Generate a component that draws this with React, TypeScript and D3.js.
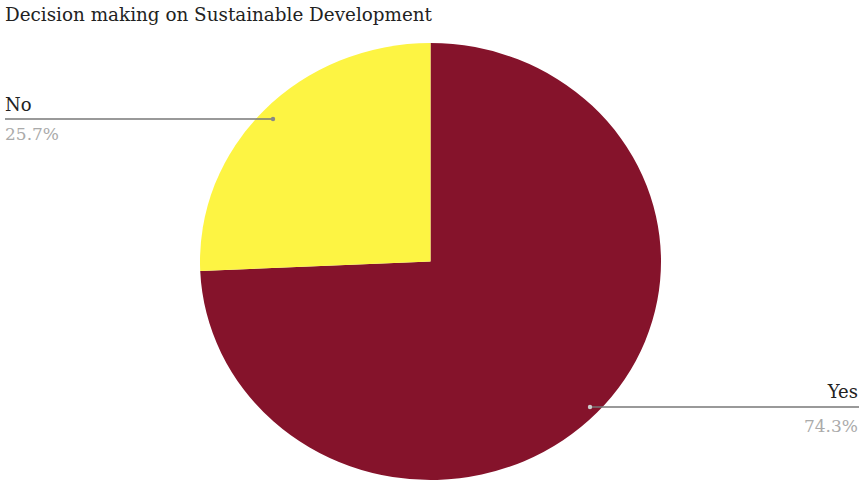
import React from "react";
import * as d3 from "d3";

const categories = ["Yes", "No"];
const values = [74.3, 25.7];
const colors = ["#85132B", "#FDF443"];
const title = "Decision making on Sustainable Development";

export default function App() {
  const W = 859, H = 483;
  const cx = 430.5, cy = 261.5, rx = 230.5, ry = 218.5;
  const pie = d3.pie<number>().sort(null).value((d) => d);
  const arcs = pie(values);
  const arc = d3.arc<d3.PieArcDatum<number>>().innerRadius(0).outerRadius(rx);
  const font = "'DejaVu Serif', serif";
  return (
    <svg width={W} height={H} style={{ position: "absolute", left: 0, top: 0, background: "#fff" }}>
      <text x={5} y={21} fontFamily={font} fontSize={18} fill="#222" textLength={427} lengthAdjust="spacingAndGlyphs">{title}</text>
      <g transform={`translate(${cx},${cy}) scale(1,${ry / rx})`}>
        {arcs.map((a, i) => (
          <path key={categories[i]} d={arc(a) || ""} fill={colors[i]} />
        ))}
      </g>
      {/* No label */}
      <line x1={5} y1={119} x2={273} y2={119} stroke="#777" strokeWidth={1.3} />
      <circle cx={273} cy={119} r={2.2} fill="#888" />
      <text x={5} y={111} fontFamily={font} fontSize={18} fill="#222">{categories[1]}</text>
      <text x={5} y={140} fontFamily={font} fontSize={17} fill="#aaa">{values[1].toFixed(1)}%</text>
      {/* Yes label */}
      <line x1={590} y1={407} x2={859} y2={407} stroke="#777" strokeWidth={1.3} />
      <circle cx={590} cy={407} r={2.2} fill="#ccc" />
      <text x={858} y={398} textAnchor="end" fontFamily={font} fontSize={18} fill="#222">{categories[0]}</text>
      <text x={858} y={432} textAnchor="end" fontFamily={font} fontSize={17} fill="#aaa">{values[0].toFixed(1)}%</text>
    </svg>
  );
}
